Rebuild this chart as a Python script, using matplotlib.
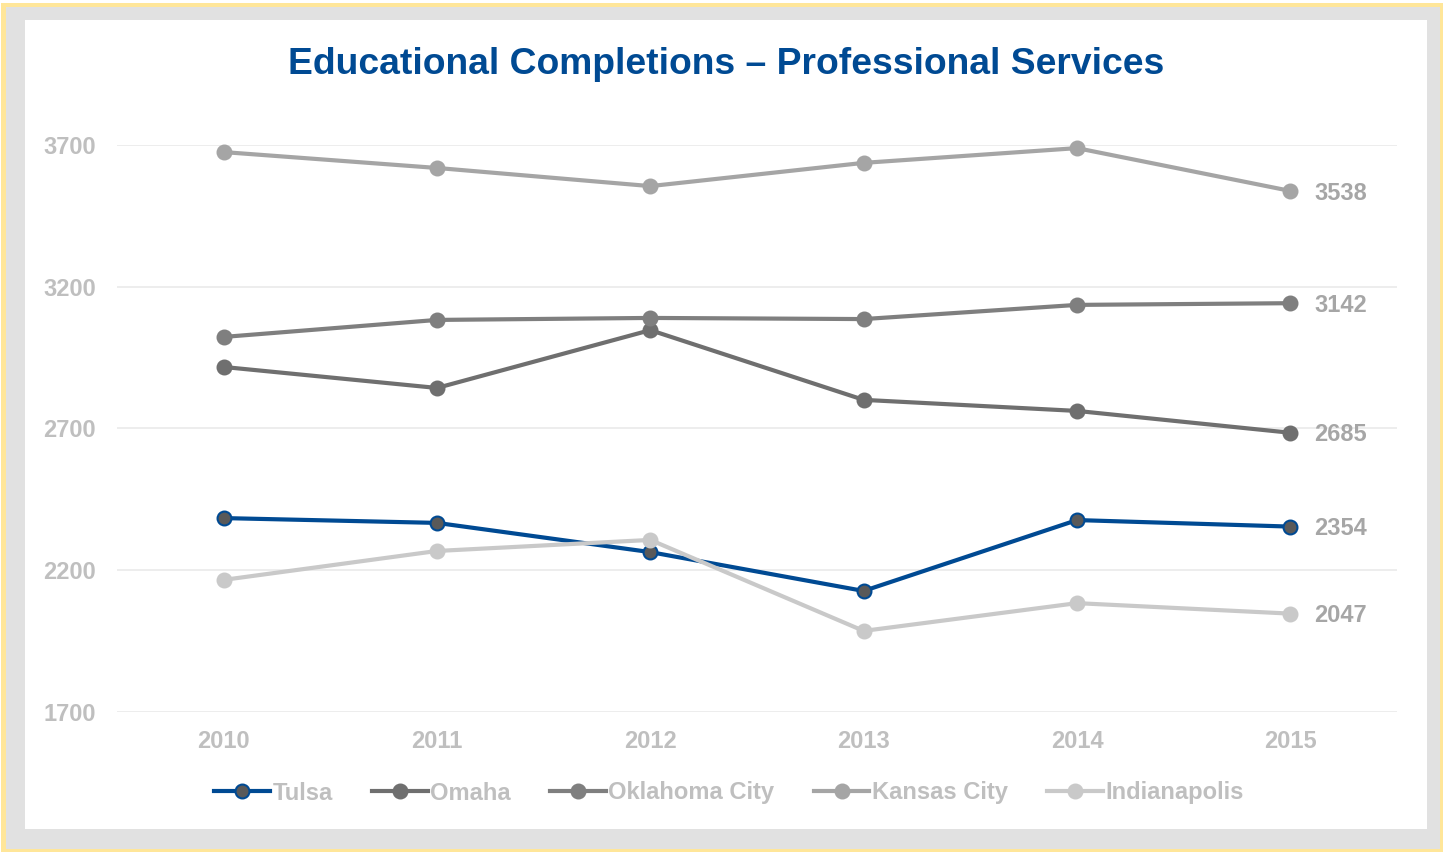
import matplotlib.pyplot as plt
from matplotlib.patches import Rectangle

plt.rcParams['font.family'] = ['Liberation Sans', 'DejaVu Sans']
plt.rcParams['font.weight'] = 'bold'

# ---------------- Data ----------------
years = ['2010', '2011', '2012', '2013', '2014', '2015']
tulsa = [2384, 2367, 2264, 2127, 2377, 2354]
omaha = [2917, 2843, 3047, 2801, 2762, 2685]
oklahoma_city = [3023, 3083, 3090, 3086, 3136, 3142]
kansas_city = [3675, 3619, 3555, 3637, 3689, 3538]
indianapolis = [2166, 2268, 2307, 1986, 2084, 2047]
y_ticks = [1700, 2200, 2700, 3200, 3700]
# --------------------------------------

W, H = 1443, 852
fig = plt.figure(figsize=(W / 100, H / 100), dpi=100)
fig.patch.set_facecolor('white')

def frame(x0, y0, x1, y1, color):
    # rectangle given in pixel coords measured from the top-left corner
    fig.patches.append(Rectangle((x0 / W, 1 - y1 / H), (x1 - x0) / W, (y1 - y0) / H,
                                 transform=fig.transFigure, facecolor=color,
                                 edgecolor='none', zorder=-10))

frame(1, 3, 1443, 852, '#ffe699')
frame(6, 7, 1440, 849, '#e1e1e1')
frame(25, 20, 1427, 829, 'white')

ax = fig.add_axes([117 / W, 1 - 712 / H, (1397 - 117) / W, (712 - 145) / H])
ax.set_facecolor('none')

x = list(range(len(years)))
series = [
    ('Tulsa', tulsa, '#004a93', '#595959'),
    ('Omaha', omaha, '#6f6f6f', '#6f6f6f'),
    ('Oklahoma City', oklahoma_city, '#7f7f7f', '#7f7f7f'),
    ('Kansas City', kansas_city, '#a5a5a5', '#a5a5a5'),
    ('Indianapolis', indianapolis, '#c9c9c9', '#c9c9c9'),
]

for name, vals, color, face in series:
    ax.plot(x, vals, color=color, lw=3, marker='o', markersize=10,
            markerfacecolor=face, markeredgecolor=color, markeredgewidth=1.5,
            label=name, clip_on=False, zorder=3)
    # value label at the last point
    ax.annotate(str(vals[-1]), (x[-1], vals[-1]), xytext=(17, -1.5),
                textcoords='offset points', ha='left', va='center',
                fontsize=17, color='#a6a6a6', fontweight='bold')

ax.set_xlim(-0.5, len(years) - 0.5)
ax.set_ylim(1700, 3700)
ax.set_xticks(x)
ax.set_xticklabels(years)
ax.set_yticks(y_ticks)
ax.tick_params(axis='both', length=0, labelsize=17, labelcolor='#bfbfbf')
ax.tick_params(axis='y', pad=15)
ax.tick_params(axis='x', pad=13)
ax.grid(axis='y', color='#ececec', lw=1.3)
ax.set_axisbelow(True)
for s in ax.spines.values():
    s.set_visible(False)

fig.text(726.5 / W, 1 - 64 / H, 'Educational Completions \u2013 Professional Services',
         ha='center', va='center', fontsize=26.8, color='#004a93', fontweight='bold')

leg = fig.legend(loc='center', bbox_to_anchor=(729 / W, 1 - 793 / H), ncol=5,
                 frameon=False, fontsize=17.1, handlelength=2.35, handletextpad=0.1,
                 columnspacing=1.65)
for t in leg.get_texts():
    t.set_color('#bfbfbf')

fig.savefig('out.png', dpi=100)
